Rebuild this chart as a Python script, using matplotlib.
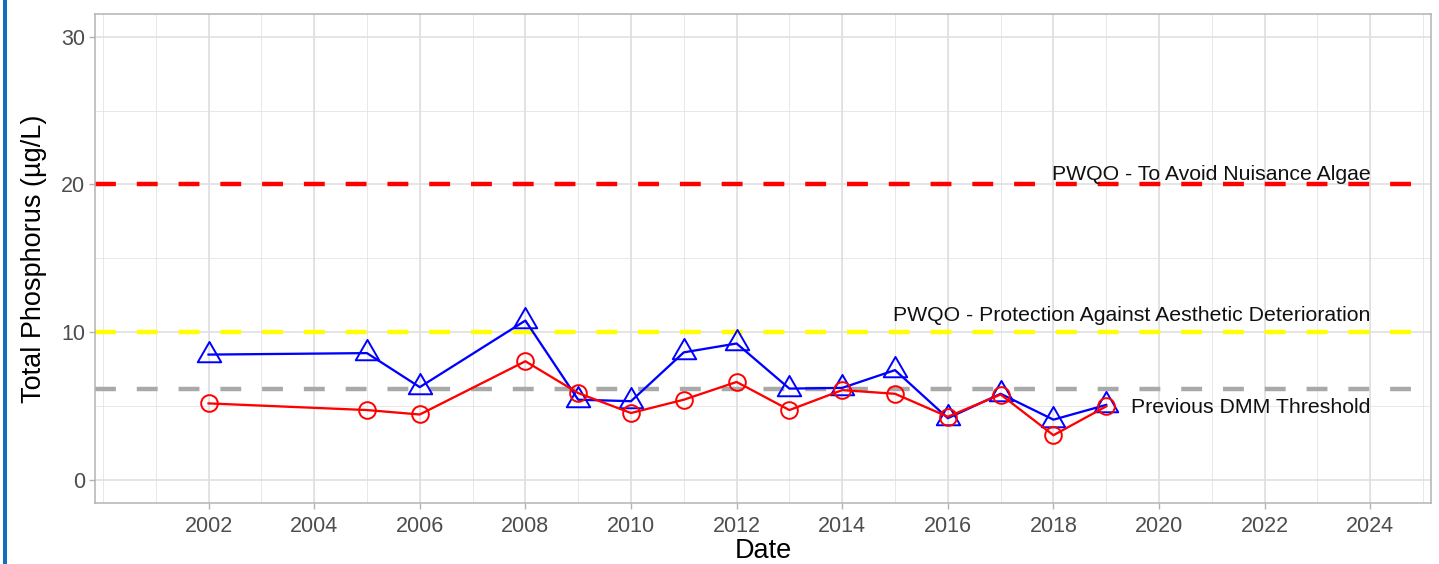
import matplotlib
matplotlib.use("Agg")
import matplotlib.pyplot as plt
from matplotlib.path import Path
from matplotlib.patches import Rectangle

plt.rcParams['font.family'] = ['Liberation Sans', 'DejaVu Sans']

# ---- data ----
years_blue = [2002, 2005, 2006, 2008, 2009, 2010, 2011, 2012, 2013, 2014, 2015, 2016, 2017, 2018, 2019]
tp_blue = [8.5, 8.6, 6.3, 10.8, 5.45, 5.35, 8.65, 9.25, 6.2, 6.25, 7.45, 4.2, 5.85, 4.1, 5.1]
years_red = [2002, 2005, 2006, 2008, 2009, 2010, 2011, 2012, 2013, 2014, 2015, 2016, 2017, 2018, 2019]
tp_red = [5.2, 4.75, 4.45, 8.05, 5.9, 4.55, 5.45, 6.65, 4.75, 6.1, 5.85, 4.3, 5.8, 3.05, 5.0]

thresholds = [20, 10, 6.2]
threshold_colors = ['#FF0000', '#FFFF00', '#A9A9A9']
threshold_labels = ['PWQO - To Avoid Nuisance Algae',
                    'PWQO - Protection Against Aesthetic Deterioration',
                    'Previous DMM Threshold']
label_y = [20.3, 10.8, 4.55]

x_major = list(range(2002, 2025, 2))
x_minor = list(range(2000, 2026, 2)) + list(range(2001, 2026, 2))
y_major = [0, 10, 20, 30]
y_minor = [5, 15, 25]

W, H = 1439, 564
fig = plt.figure(figsize=(W / 100, H / 100), dpi=100)
fig.patch.set_facecolor('white')
fig.patches.append(Rectangle((3 / W, 0), 4 / W, 1, transform=fig.transFigure,
                             facecolor='#0F6EC0', edgecolor='none'))

L, R, T, B = 95, 1431, 14.4, 502.5
ax = fig.add_axes([L / W, 1 - B / H, (R - L) / W, (B - T) / H])
ax.set_xlim(1999.85, 2025.15)
ax.set_ylim(-1.5, 31.5)

# grid
for xv in x_minor:
    ax.axvline(xv, color='#E4E4E4', lw=0.6, zorder=0)
for yv in y_minor:
    ax.axhline(yv, color='#E4E4E4', lw=0.6, zorder=0)
for xv in x_major:
    ax.axvline(xv, color='#DEDEDE', lw=1.1, zorder=0)
for yv in y_major:
    ax.axhline(yv, color='#DEDEDE', lw=1.1, zorder=0)

# threshold lines
for yv, c in zip(thresholds, threshold_colors):
    ax.axhline(yv, color=c, lw=3.2, dashes=(4.7, 4.7), dash_capstyle='butt', zorder=1)

# triangle marker like ggplot shape 2
tri = Path([(0, 1), (-0.866, -0.5), (0.866, -0.5), (0, 1)],
           [Path.MOVETO, Path.LINETO, Path.LINETO, Path.CLOSEPOLY])

ax.plot(years_blue, tp_blue, color='#0000FF', lw=1.65, marker=tri, ms=19.5,
        mfc='none', mec='#0000FF', mew=1.4, zorder=3, solid_joinstyle='round')
ax.plot(years_red, tp_red, color='#FF0000', lw=1.65, marker='o', ms=12,
        mfc='none', mec='#FF0000', mew=1.4, zorder=4, solid_joinstyle='round')

for yv, lab in zip(label_y, threshold_labels):
    ax.text(2024, yv, lab, ha='right', va='baseline', fontsize=15.3, color='#111111', zorder=5)

ax.set_xticks(x_major)
ax.set_xticklabels([str(v) for v in x_major])
ax.set_yticks(y_major)
ax.tick_params(axis='both', colors='#B3B3B3', labelcolor='#4D4D4D', labelsize=15.5,
               length=4, width=1.0)
ax.tick_params(axis='x', pad=6)
ax.tick_params(axis='y', pad=3)

for s in ax.spines.values():
    s.set_color('#B3B3B3')
    s.set_linewidth(1.1)

ax.set_xlabel('Date', fontsize=19.5, color='black')
ax.set_ylabel('Total Phosphorus (µg/L)', fontsize=19.5, color='black')
ax.xaxis.set_label_coords(0.5, -0.0735)
ax.yaxis.set_label_coords(-0.036, 0.5)

fig.savefig('out.png', dpi=100)
